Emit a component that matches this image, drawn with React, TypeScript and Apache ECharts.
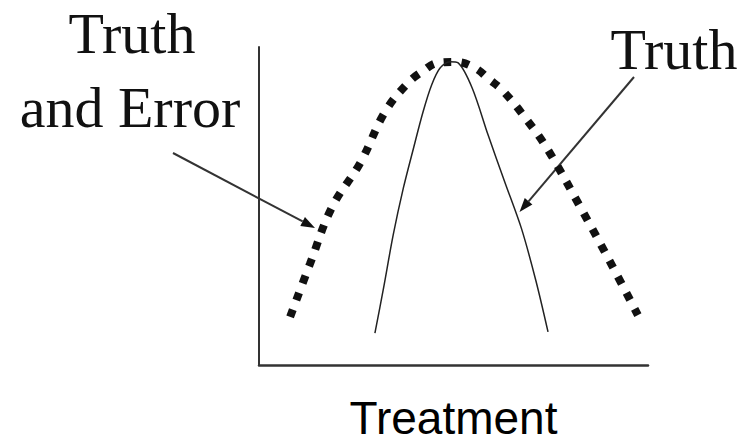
import React, { useEffect, useRef } from "react";
import * as echarts from "echarts";

// Wide curve: "Truth and Error" (x = treatment, y = response)
const errorX = [8.0, 13.1, 18.8, 26.0, 32.4, 38.3, 42.2, 45.9, 50.6, 55.5, 59.1, 62.7, 68.9, 74.3, 83.3, 90.7, 97.4];
const errorY = [15.1, 31.8, 49.7, 63.5, 79.6, 88.7, 92.5, 95.0, 95.3, 93.4, 89.9, 86.2, 77.0, 67.6, 48.1, 31.4, 15.7];

// Narrow curve: "Truth"
const truthX = [29.8, 32.0, 34.5, 37.1, 39.7, 42.2, 44.4, 46.5, 49.1, 51.2, 54.8, 58.9, 63.2, 67.5, 71.2, 74.3];
const truthY = [10.0, 24.1, 40.9, 55.6, 68.1, 79.7, 88.1, 93.3, 95.4, 95.0, 87.1, 72.3, 57.5, 42.8, 26.4, 10.4];

const xAxisName = "Treatment";
const labelLeft = ["Truth", "and Error"];
const labelRight = "Truth";

export default function App() {
  const ref = useRef<HTMLDivElement>(null);

  useEffect(() => {
    document.body.style.margin = "0";
    if (!ref.current) return;
    const chart = echarts.init(ref.current, undefined, { renderer: "svg" });

    const serif = "'Liberation Serif', 'Times New Roman', serif";
    const arrowColor = "#333";

    const arrow = (x1: number, y1: number, x2: number, y2: number) => {
      const dx = x2 - x1;
      const dy = y2 - y1;
      const len = Math.sqrt(dx * dx + dy * dy);
      const ux = dx / len;
      const uy = dy / len;
      const hl = 14;
      const hw = 5;
      const bx = x2 - ux * hl;
      const by = y2 - uy * hl;
      const px = -uy * hw;
      const py = ux * hw;
      return [
        {
          type: "line",
          shape: { x1, y1, x2: bx, y2: by },
          style: { stroke: arrowColor, lineWidth: 2 },
          silent: true,
        },
        {
          type: "polygon",
          shape: {
            points: [
              [x2, y2],
              [bx + px, by + py],
              [bx - px, by - py],
            ],
          },
          style: { fill: "#111" },
          silent: true,
        },
      ];
    };

    chart.setOption({
      animation: false,
      backgroundColor: "#fff",
      grid: {
        left: 259,
        top: 47,
        width: 389,
        height: 318,
        containLabel: false,
        outerBoundsMode: "none",
      },
      xAxis: {
        type: "value",
        min: 0,
        max: 100,
        name: xAxisName,
        nameLocation: "middle",
        nameGap: 30,
        nameTextStyle: {
          fontFamily: "'Liberation Sans', Arial, sans-serif",
          fontSize: 46,
          color: "#000",
        },
        axisLine: { show: true, onZero: false, lineStyle: { color: "#333", width: 2.5 } },
        axisTick: { show: false },
        axisLabel: { show: false },
        splitLine: { show: false },
      },
      yAxis: {
        type: "value",
        min: 0,
        max: 100,
        axisLine: { show: true, onZero: false, lineStyle: { color: "#333", width: 2 } },
        axisTick: { show: false },
        axisLabel: { show: false },
        splitLine: { show: false },
      },
      series: [
        {
          name: "Truth and Error",
          type: "line",
          smooth: 0.4,
          symbol: "none",
          data: errorX.map((x, i) => [x, errorY[i]]),
          lineStyle: { color: "#111", width: 8, type: [8, 10], cap: "butt" },
        },
        {
          name: "Truth",
          type: "line",
          smooth: 0.3,
          symbol: "none",
          data: truthX.map((x, i) => [x, truthY[i]]),
          lineStyle: { color: "#222", width: 1.5 },
        },
      ],
      graphic: [
        {
          type: "text",
          x: 132,
          y: 33,
          style: {
            text: labelLeft[0],
            font: `58px ${serif}`,
            fill: "#111",
            align: "center",
            verticalAlign: "middle",
          },
        },
        {
          type: "text",
          x: 130,
          y: 107,
          style: {
            text: labelLeft[1],
            font: `58px ${serif}`,
            fill: "#111",
            align: "center",
            verticalAlign: "middle",
          },
        },
        {
          type: "text",
          x: 674,
          y: 49,
          style: {
            text: labelRight,
            font: `58px ${serif}`,
            fill: "#111",
            align: "center",
            verticalAlign: "middle",
          },
        },
        ...arrow(173, 153, 315, 228),
        ...arrow(634, 77, 519.5, 212),
      ],
    });

    return () => chart.dispose();
  }, []);

  return <div ref={ref} style={{ width: 740, height: 447 }} />;
}
